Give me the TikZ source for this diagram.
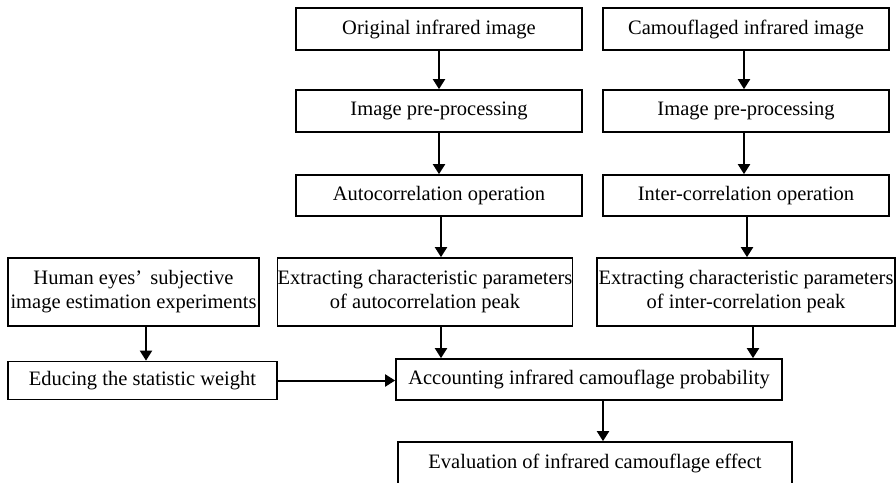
\documentclass[tikz,border=0pt]{standalone}
\usepackage{fontspec}
\setmainfont{Liberation Serif}
\usetikzlibrary{arrows.meta}
\begin{document}
\begin{tikzpicture}[x=1pt,y=-1pt,
  box/.style={draw, line width=1.7pt, inner sep=0pt, align=center, font=\fontsize{20.5}{24}\selectfont},
  arr/.style={line width=2pt, -{Triangle[length=10pt,width=12pt]}}]
\useasboundingbox (0,0) rectangle (896,482);
\clip (0,0) rectangle (896,482);
% top rows
\node[box, minimum width=286pt, minimum height=42pt] (orig) at (439,29) {Original infrared image};
\node[box, minimum width=286pt, minimum height=42pt] (camo) at (746,29) {Camouflaged infrared image};
\node[box, minimum width=286pt, minimum height=42pt] (pre1) at (439,111) {Image pre-processing};
\node[box, minimum width=286pt, minimum height=42pt] (pre2) at (746,111) {Image pre-processing};
\node[box, minimum width=286pt, minimum height=41pt] (auto) at (439,195.5) {Autocorrelation operation};
\node[box, minimum width=286pt, minimum height=41pt] (inter) at (746,195.5) {Inter-correlation operation};
% row 4
\node[box, minimum width=251pt, minimum height=68pt] (human) at (133.5,292) {Human eyes’\hspace{0.4em}subjective\\image estimation experiments};
\node[box, minimum width=294pt, minimum height=68pt] (exa) at (425,292) {Extracting characteristic parameters\\of autocorrelation peak};
\node[box, minimum width=298pt, minimum height=68pt] (exi) at (746,292) {Extracting characteristic parameters\\of inter-correlation peak};
% row 5
\node[box, minimum width=269pt, minimum height=38pt] (educ) at (142.5,380.5) {Educing the statistic weight};
\node[box, minimum width=386pt, minimum height=41pt] (acc) at (589,379.5) {Accounting infrared camouflage probability};
% row 6
\node[box, minimum width=394pt, minimum height=42pt] (eval) at (595,463) {Evaluation of infrared camouflage effect};
% arrows
\draw[arr] (orig.south -| 439,0) -- (pre1.north -| 439,0);
\draw[arr] (camo.south -| 744,0) -- (pre2.north -| 744,0);
\draw[arr] (pre1.south -| 439,0) -- (auto.north -| 439,0);
\draw[arr] (pre2.south -| 744,0) -- (inter.north -| 744,0);
\draw[arr] (auto.south -| 441,0) -- (exa.north -| 441,0);
\draw[arr] (inter.south -| 747,0) -- (exi.north -| 747,0);
\draw[arr] (exa.south -| 441,0) -- (acc.north -| 441,0);
\draw[arr] (exi.south -| 753,0) -- (acc.north -| 753,0);
\draw[arr] (human.south -| 146,0) -- (educ.north -| 146,0);
\draw[arr] (educ.east) -- (acc.west |- educ.east);
\draw[arr] (acc.south -| 603,0) -- (eval.north -| 603,0);
\end{tikzpicture}
\end{document}
